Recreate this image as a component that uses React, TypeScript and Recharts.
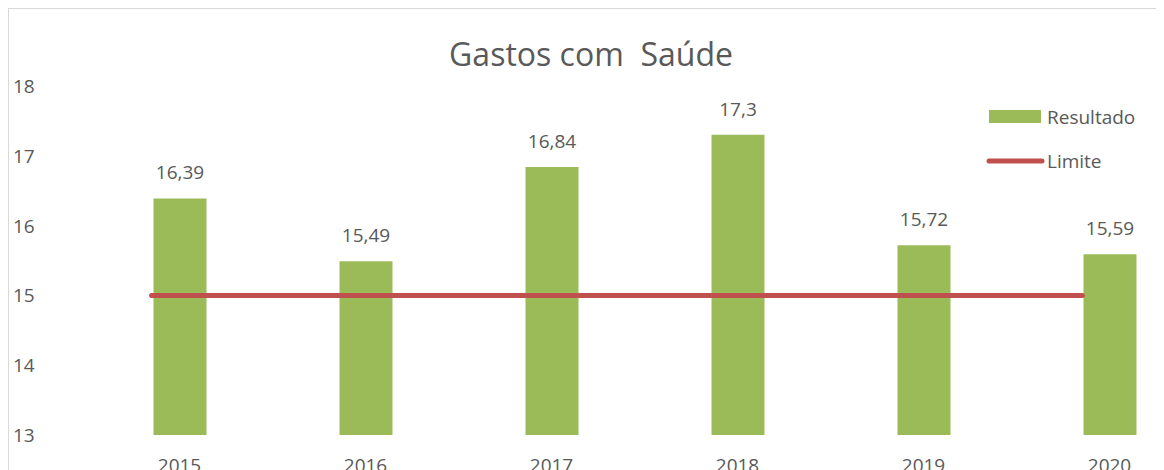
import React from "react";
import { ComposedChart, Bar, Line, XAxis, YAxis, Legend, LabelList } from "recharts";

const years = ["2015", "2016", "2017", "2018", "2019", "2020"];
const resultado = [16.39, 15.49, 16.84, 17.3, 15.72, 15.59];
const limite = [15, 15, 15, 15, 15, 15];
const yTicks = [13, 14, 15, 16, 17, 18];

const data = years.map((y, i) => ({ year: y, resultado: resultado[i], limite: limite[i] }));

const FONT = "'Open Sans', sans-serif";
const TXT = "#595959";
const GREEN = "#9BBB59";
const RED = "#C0504D";

const YTick = (props: any) => {
  const { y, payload } = props;
  return (
    <text x={4} y={y} dominantBaseline="central" textAnchor="start" fontSize={19} fill={TXT} fontFamily={FONT}>
      {payload.value}
    </text>
  );
};

const XTick = (props: any) => {
  const { x, payload } = props;
  return (
    <text x={x} y={456} dominantBaseline="central" textAnchor="middle" fontSize={19} fill={TXT} fontFamily={FONT}>
      {payload.value}
    </text>
  );
};

const BarLabel = (props: any) => {
  const { x, y, width, value } = props;
  return (
    <text x={x + width / 2} y={y - 26} dominantBaseline="central" textAnchor="middle" fontSize={19} fill={TXT} fontFamily={FONT}>
      {String(value).replace(".", ",")}
    </text>
  );
};

const LegendContent = () => (
  <svg width={200} height={80} style={{ overflow: "visible", display: "block" }}>
    <rect x={5} y={6} width={52} height={13} fill={GREEN} />
    <text x={63} y={13} dominantBaseline="central" fontSize={19} fill={TXT} fontFamily={FONT}>Resultado</text>
    <line x1={5} y1={57} x2={58} y2={57} stroke={RED} strokeWidth={5} strokeLinecap="round" />
    <text x={63} y={57} dominantBaseline="central" fontSize={19} fill={TXT} fontFamily={FONT}>Limite</text>
  </svg>
);

export default function App() {
  return (
    <div
      style={{
        position: "relative",
        width: 1156,
        height: 462,
        overflow: "hidden",
        borderLeft: "1px solid #d9d9d9",
        borderTop: "1px solid #d9d9d9",
        boxSizing: "border-box",
        background: "#fff",
      }}
    >
      <ComposedChart
        width={1250}
        height={470}
        data={data}
        margin={{ top: 77, right: 56.5, bottom: 14, left: 0 }}
      >
        <text
          x={582}
          y={44}
          textAnchor="middle"
          dominantBaseline="central"
          fontSize={32}
          fill={TXT}
          fontFamily={FONT}
          style={{ whiteSpace: "pre" }}
        >
          {"Gastos com  Saúde"}
        </text>
        <XAxis dataKey="year" xAxisId="main" height={30} axisLine={false} tickLine={false} tick={<XTick />} interval={0} />
        <XAxis dataKey="year" xAxisId="line" hide padding={{ left: -28, right: 27 }} />
        <YAxis
          domain={[13, 18]}
          ticks={yTicks}
          width={77.5}
          axisLine={false}
          tickLine={false}
          tick={<YTick />}
          interval={0}
        />
        <Legend
          content={<LegendContent />}
          wrapperStyle={{ position: "absolute", left: 975, top: 95, width: 200, height: 0, overflow: "visible" }}
        />
        <Bar dataKey="resultado" xAxisId="main" fill={GREEN} barSize={53} isAnimationActive={false}>
          <LabelList dataKey="resultado" content={<BarLabel />} />
        </Bar>
        <Line
          dataKey="limite"
          xAxisId="line"
          stroke={RED}
          strokeWidth={5}
          strokeLinecap="round"
          dot={false}
          activeDot={false}
          isAnimationActive={false}
        />
      </ComposedChart>
    </div>
  );
}
